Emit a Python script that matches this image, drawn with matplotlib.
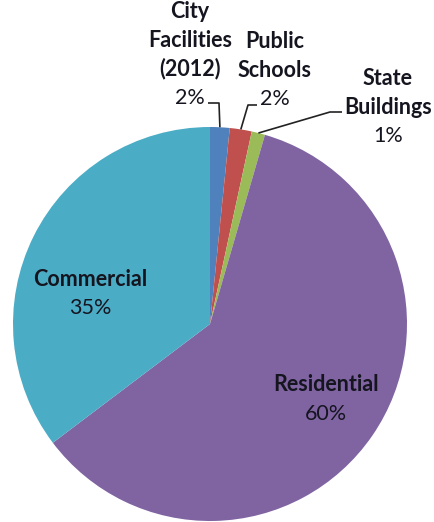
import matplotlib
matplotlib.use("Agg")
import matplotlib.pyplot as plt
import math

plt.rcParams['font.family'] = ['Lato', 'DejaVu Sans']

# share of each sector (percent), clockwise from 12 o'clock
sectors = ['City\nFacilities\n(2012)', 'Public\nSchools', 'State\nBuildings',
           'Residential', 'Commercial']
shares = [1.6, 1.8, 1.1, 60.2, 35.3]
colors = ['#4F81BD', '#C0504D', '#9BBB59', '#8064A2', '#4BACC6']

W, H = 434, 522
cx, cy, r = 210, 324, 197   # pie centre and radius in pixels


def px(x, y):
    # pixel position -> data position (pie has radius 1)
    return (x - cx) / r, (cy - y) / r


fig = plt.figure(figsize=(W / 100, H / 100), dpi=100)
ax = fig.add_axes([0, 0, 1, 1])
wedges, _ = ax.pie(shares, colors=colors, startangle=90, counterclock=False,
                   radius=1, wedgeprops=dict(linewidth=0))
ax.set_aspect('auto')
ax.set_xlim(-cx / r, (W - cx) / r)
ax.set_ylim((cy - H) / r, cy / r)
ax.axis('off')

step = 28.5
fs = 15.5
txtcol = '#151520'


def label(i, x, y):
    lines = sectors[i].split('\n') + ['%d%%' % round(shares[i])]
    for k, s in enumerate(lines):
        bold = k < len(lines) - 1
        ax.text(*px(x, y + k * step), s, ha='center', va='baseline',
                fontsize=fs, fontweight='bold' if bold else 'normal',
                color=txtcol)


label(0, 190, 18)
label(1, 275, 48)
label(2, 388, 85)
label(3, 326, 391)
label(4, 90, 286)


# leader lines: wedge edge -> elbow -> label
def edge_point(w):
    t = math.radians((w.theta1 + w.theta2) / 2)
    return math.cos(t), math.sin(t)


leaders = [(0, (219, 103), (208, 103)),
           (1, (248, 105), (257, 105)),
           (2, (330, 112), (342, 112))]
for i, elbow, end in leaders:
    x0, y0 = edge_point(wedges[i])
    ex, ey = px(*elbow)
    tx, ty = px(*end)
    ax.plot([x0, ex, tx], [y0, ey, ty], color='#222222', lw=1.2,
            solid_capstyle='butt')

fig.savefig('out.png', dpi=100)
